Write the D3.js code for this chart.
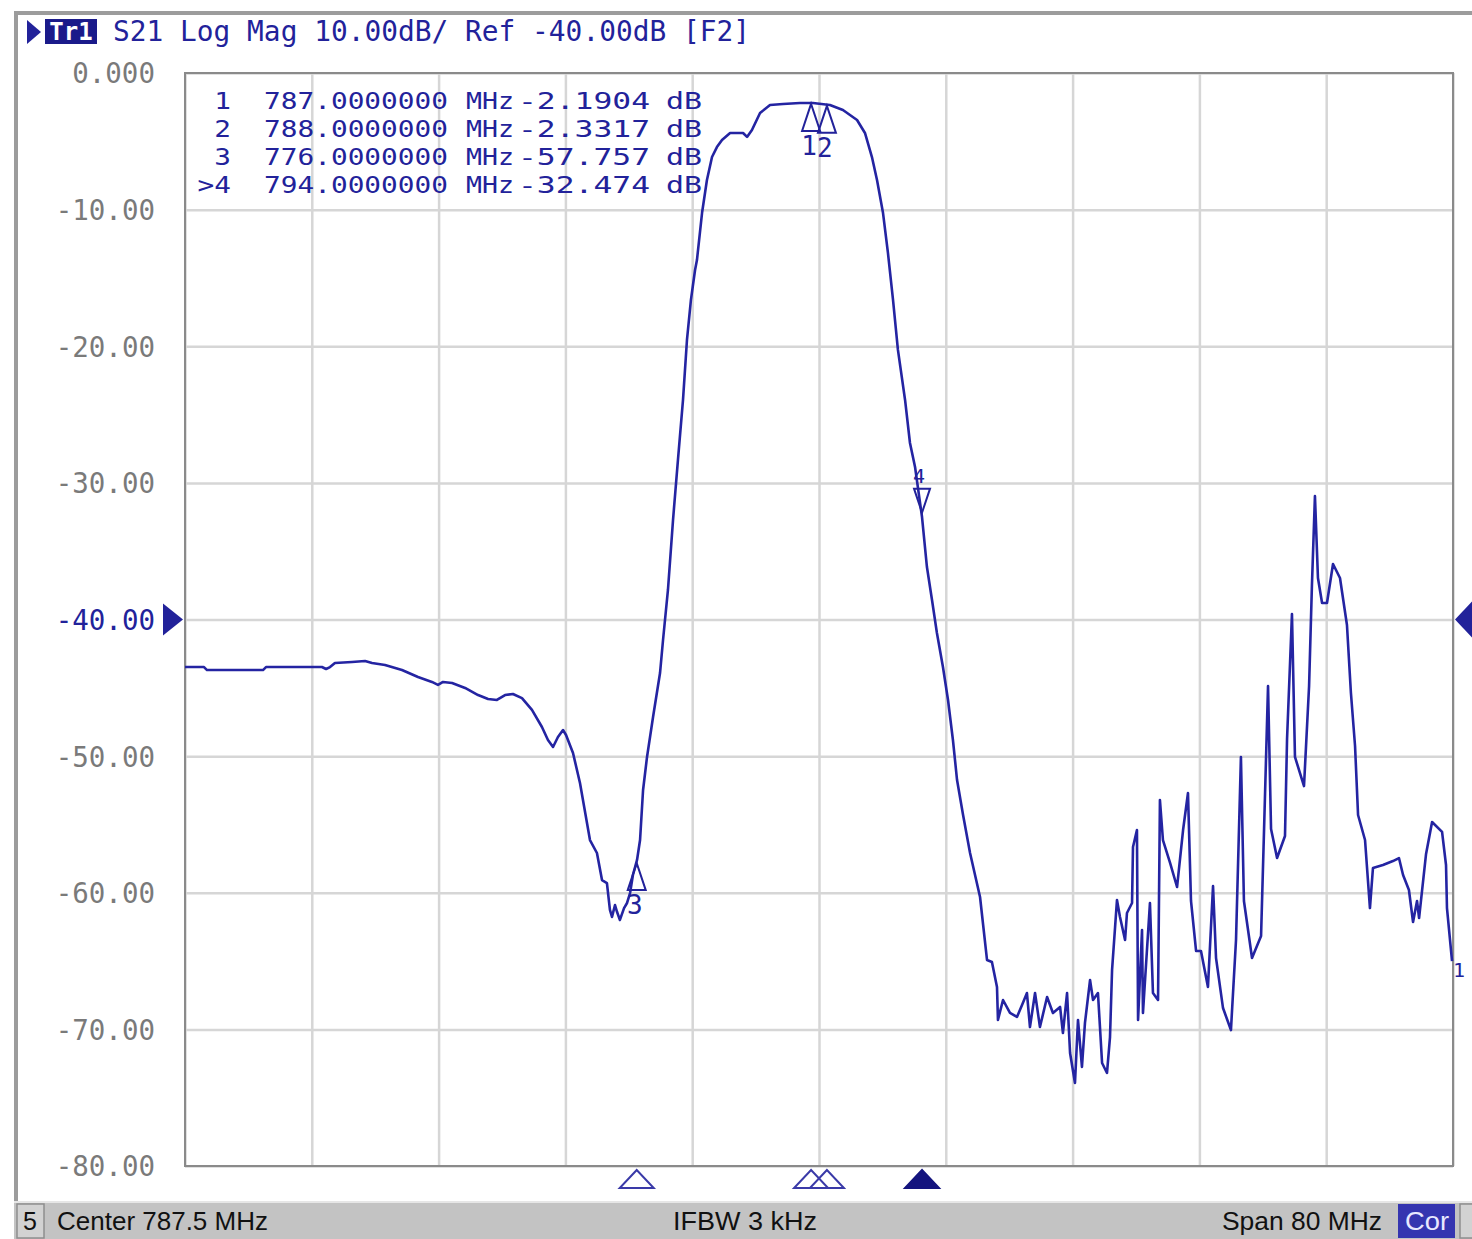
<!DOCTYPE html>
<html><head><meta charset="utf-8">
<script src="https://cdn.jsdelivr.net/npm/d3@7"></script>
<style>
html,body{margin:0;padding:0;background:#fff;}
svg{display:block;}
</style></head><body>
<svg id="c" width="1472" height="1239"></svg>
<script>
// ---- data ----
const freqMHz = [747.50, 748.70, 748.89, 752.42, 752.61, 756.14, 756.40, 756.65, 756.96, 758.04, 758.86, 759.30, 760.12, 761.19, 762.20, 763.08, 763.46, 763.78, 764.35, 765.17, 765.99, 766.62, 767.18, 767.69, 768.19, 768.76, 769.39, 770.02, 770.40, 770.72, 771.03, 771.35, 771.54, 771.98, 772.42, 773.05, 773.49, 773.81, 774.12, 774.31, 774.44, 774.63, 774.76, 774.94, 775.20, 775.39, 775.58, 775.76, 776.02, 776.21, 776.40, 776.65, 777.03, 777.47, 777.66, 777.97, 778.29, 778.60, 778.92, 779.17, 779.42, 779.68, 779.80, 780.12, 780.43, 780.75, 781.06, 781.38, 781.89, 782.71, 782.96, 783.27, 783.78, 784.41, 785.23, 786.30, 787.12, 788.19, 789.01, 789.90, 790.40, 790.84, 791.16, 791.54, 791.85, 792.17, 792.48, 792.93, 793.24, 793.56, 794.00, 794.31, 794.63, 794.94, 795.32, 795.64, 795.95, 796.21, 796.59, 797.03, 797.66, 798.10, 798.41, 798.73, 798.79, 799.11, 799.55, 799.99, 800.31, 800.62, 800.81, 801.13, 801.44, 801.89, 802.26, 802.71, 802.89, 803.15, 803.34, 803.65, 803.84, 804.09, 804.28, 804.60, 804.79, 805.10, 805.36, 805.67, 805.86, 805.99, 806.18, 806.30, 806.49, 806.81, 806.93, 807.25, 807.31, 807.56, 807.63, 807.88, 807.94, 808.38, 808.57, 808.89, 809.01, 809.20, 809.65, 810.09, 810.47, 810.78, 810.97, 811.29, 811.60, 812.04, 812.36, 812.55, 812.99, 813.49, 813.81, 814.12, 814.31, 814.82, 815.39, 815.58, 815.83, 816.02, 816.40, 816.90, 817.03, 817.34, 817.53, 818.10, 818.42, 818.60, 818.79, 818.98, 819.24, 819.55, 819.93, 820.37, 820.81, 821.06, 821.32, 821.51, 821.95, 822.26, 822.45, 823.08, 823.71, 824.09, 824.35, 824.72, 824.98, 825.23, 825.36, 825.80, 826.18, 826.81, 827.06, 827.12, 827.44];
const s21dB = [-43.48, -43.48, -43.70, -43.70, -43.48, -43.48, -43.62, -43.48, -43.18, -43.11, -43.04, -43.18, -43.33, -43.70, -44.21, -44.57, -44.79, -44.57, -44.65, -45.01, -45.53, -45.82, -45.89, -45.53, -45.45, -45.75, -46.62, -47.87, -48.82, -49.33, -48.60, -48.09, -48.45, -49.77, -51.97, -56.14, -57.09, -59.07, -59.29, -61.26, -61.77, -60.90, -61.41, -61.99, -61.12, -60.75, -60.02, -58.70, -57.60, -56.14, -52.48, -50.06, -47.14, -43.92, -41.50, -37.84, -32.72, -28.33, -23.93, -19.54, -16.61, -14.42, -13.69, -10.25, -7.83, -6.15, -5.42, -4.90, -4.39, -4.39, -4.68, -4.17, -2.93, -2.34, -2.27, -2.20, -2.20, -2.34, -2.71, -3.44, -4.39, -6.15, -7.83, -10.25, -13.17, -16.61, -20.27, -23.93, -27.08, -28.84, -32.50, -36.16, -38.57, -40.99, -43.48, -45.89, -48.82, -51.75, -54.31, -57.09, -60.31, -64.92, -65.07, -66.90, -69.31, -67.85, -68.80, -69.09, -68.22, -67.34, -69.83, -67.34, -69.83, -67.63, -68.80, -68.36, -70.27, -67.34, -71.73, -73.92, -69.31, -72.75, -69.53, -66.39, -67.85, -67.34, -72.46, -73.19, -70.56, -65.65, -62.51, -60.53, -61.77, -63.46, -61.48, -60.75, -56.65, -55.41, -69.31, -62.73, -68.80, -60.75, -67.34, -67.85, -53.21, -56.14, -57.82, -59.58, -55.41, -52.70, -60.60, -64.26, -64.26, -66.90, -59.51, -64.78, -68.44, -70.05, -63.46, -50.06, -60.60, -64.78, -63.17, -55.33, -44.87, -55.33, -57.46, -55.85, -48.75, -39.60, -50.06, -52.19, -44.87, -37.47, -30.96, -36.96, -38.79, -38.79, -35.94, -36.96, -40.40, -45.38, -49.26, -54.31, -56.14, -61.12, -58.19, -57.97, -57.68, -57.46, -58.70, -59.80, -62.14, -60.60, -61.85, -57.16, -54.82, -55.55, -57.97, -61.12, -65.00];

const yTickValues = [0, -10, -20, -30, -40, -50, -60, -70, -80];
const yTickLabels = ["0.000", "-10.00", "-20.00", "-30.00", "-40.00", "-50.00", "-60.00", "-70.00", "-80.00"];
const xGridMHz = [747.5, 755.5, 763.5, 771.5, 779.5, 787.5, 795.5, 803.5, 811.5, 819.5, 827.5];

const markerIds = ["1", "2", "3", "4"];
const markerRowIds = ["1", "2", "3", ">4"];
const markerFreq = [787, 788, 776, 794];
const markerDb = [-2.1904, -2.3317, -57.757, -32.474];
const activeMarker = "4";

const headerTag = "Tr1";
const headerText = "S21 Log Mag 10.00dB/ Ref -40.00dB [F2]";
const refLevel = -40;
const statusChannel = "5";
const statusCenter = "Center 787.5 MHz";
const statusIfbw = "IFBW 3 kHz";
const statusSpan = "Span 80 MHz";
const statusCor = "Cor";

// ---- drawing ----
const svg = d3.select("#c");
const BLUE = "#22229a";
const MONO = "'DejaVu Sans Mono', 'Liberation Mono', monospace";

const x = d3.scaleLinear().domain([747.5, 827.5]).range([185, 1453]);
const y = d3.scaleLinear().domain([-80, 0]).range([1166, 73]);

// outer frame
svg.append("rect").attr("x", 0).attr("y", 0).attr("width", 1472).attr("height", 1239).attr("fill", "#fff");
svg.append("line").attr("x1", 14).attr("x2", 1472).attr("y1", 13).attr("y2", 13)
  .attr("stroke", "#9c9c9c").attr("stroke-width", 4);
svg.append("line").attr("x1", 16).attr("x2", 16).attr("y1", 11).attr("y2", 1205)
  .attr("stroke", "#9c9c9c").attr("stroke-width", 4);

// grid
const plotW = x.range()[1] - x.range()[0];
const plotH = y.range()[0] - y.range()[1];
svg.append("g")
  .call(d3.axisBottom(x).tickValues(xGridMHz).tickSize(plotH).tickFormat(""))
  .call(g => g.attr("transform", `translate(0,${y(0)})`))
  .call(g => g.select(".domain").remove())
  .call(g => g.selectAll("line").attr("stroke", "#d6d6d6").attr("stroke-width", 2.5));
svg.append("g").attr("transform", `translate(${x(747.5)},0)`)
  .call(d3.axisRight(y).tickValues(yTickValues).tickSize(plotW).tickFormat(""))
  .call(g => g.select(".domain").remove())
  .call(g => g.selectAll("line").attr("stroke", "#d6d6d6").attr("stroke-width", 2.5));

// plot border
svg.append("rect").attr("x", x(747.5)).attr("y", y(0)).attr("width", plotW).attr("height", plotH)
  .attr("fill", "none").attr("stroke", "#8a8a8a").attr("stroke-width", 2);

// y labels
svg.append("g").attr("transform", `translate(${x(747.5)},0)`)
  .call(d3.axisLeft(y).tickValues(yTickValues).tickSize(0).tickPadding(30)
    .tickFormat((d, i) => yTickLabels[i]))
  .call(g => g.select(".domain").remove())
  .call(g => g.selectAll("text")
    .attr("font-family", MONO).attr("font-size", 27.5)
    .attr("fill", d => d === refLevel ? BLUE : "#7a7a7a")
    .attr("dy", "0.36em"));

// reference level triangles
const yr = y(refLevel);
svg.append("path").attr("d", `M163,${yr - 16}L183,${yr}L163,${yr + 16}Z`).attr("fill", BLUE);
svg.append("path").attr("d", `M1472,${yr - 18}L1455,${yr}L1472,${yr + 18}Z`).attr("fill", BLUE);

// trace
const pts = d3.zip(freqMHz, s21dB);
svg.append("path").datum(pts)
  .attr("d", d3.line().x(d => x(d[0])).y(d => y(d[1])))
  .attr("fill", "none").attr("stroke", "#2424a2").attr("stroke-width", 2.6)
  .attr("stroke-linejoin", "round");

// markers on trace
const markers = markerIds.map((id, i) => ({id, f: markerFreq[i], v: markerDb[i]}));
const mk = svg.append("g");
markers.forEach(m => {
  const mx = x(m.f), my = y(m.v);
  if (m.id === activeMarker) {
    mk.append("path").attr("d", `M${mx},${my - 4}L${mx - 8},${my - 28}L${mx + 8},${my - 28}Z`)
      .attr("fill", "none").attr("stroke", BLUE).attr("stroke-width", 2);
    mk.append("text").attr("x", mx - 3).attr("y", my - 34).attr("text-anchor", "middle")
      .attr("font-family", MONO).attr("font-size", 20).attr("fill", BLUE).text(m.id);
  } else {
    mk.append("path").attr("d", `M${mx},${my + 1}L${mx - 9},${my + 28}L${mx + 9},${my + 28}Z`)
      .attr("fill", "none").attr("stroke", BLUE).attr("stroke-width", 2);
    mk.append("text").attr("x", mx - 2).attr("y", my + 52).attr("text-anchor", "middle")
      .attr("font-family", MONO).attr("font-size", 26).attr("fill", BLUE).text(m.id);
  }
});
// off-edge marker label at right
svg.append("text").attr("x", 1453).attr("y", 977).attr("font-family", MONO).attr("font-size", 20)
  .attr("fill", BLUE).text("1");

// marker table
const tbl = svg.append("g").attr("font-family", MONO).attr("font-size", 23.8).attr("fill", BLUE);
const fit = (sel, w) => sel.attr("textLength", w).attr("lengthAdjust", "spacingAndGlyphs");
markers.forEach((m, i) => {
  const by = 109 + i * 28;
  const idTxt = markerRowIds[i];
  tbl.append("text").attr("x", 231 - idTxt.length * 16.7).attr("y", by).text(idTxt)
    .call(s => fit(s, idTxt.length * 16.7));
  tbl.append("text").attr("x", 264).attr("y", by).text(m.f.toFixed(7)).call(s => fit(s, 184));
  tbl.append("text").attr("x", 466).attr("y", by).text("MHz").call(s => fit(s, 48));
  tbl.append("text").attr("x", 518).attr("y", by).text(m.v.toPrecision(5)).call(s => fit(s, 132));
  tbl.append("text").attr("x", 666).attr("y", by).text("dB").call(s => fit(s, 36));
});

// markers below the axis
markers.forEach(m => {
  const mx = x(m.f);
  svg.append("path").attr("d", `M${mx},1170L${mx - 17},1188L${mx + 17},1188Z`)
    .attr("fill", m.id === activeMarker ? "#14147e" : "none")
    .attr("stroke", m.id === activeMarker ? "#14147e" : "#3a3aa8").attr("stroke-width", 2);
});

// header
svg.append("path").attr("d", "M27,20L41,32L27,44Z").attr("fill", BLUE);
svg.append("rect").attr("x", 45).attr("y", 19).attr("width", 52).attr("height", 25).attr("fill", "#1a1a8a");
svg.append("text").attr("x", 71).attr("y", 40).attr("text-anchor", "middle")
  .attr("font-family", MONO).attr("font-size", 24).attr("font-weight", "bold")
  .attr("fill", "#fff").text(headerTag);
svg.append("text").attr("x", 113).attr("y", 41)
  .attr("font-family", MONO).attr("font-size", 27.8).attr("fill", BLUE)
  .attr("textLength", 637).attr("lengthAdjust", "spacing").text(headerText);

// status bar
const sb = svg.append("g");
sb.append("rect").attr("x", 14).attr("y", 1202).attr("width", 1458).attr("height", 37).attr("fill", "#c3c3c3");
sb.append("line").attr("x1", 14).attr("x2", 1472).attr("y1", 1202).attr("y2", 1202).attr("stroke", "#e6e6e6").attr("stroke-width", 2);
sb.append("rect").attr("x", 17).attr("y", 1204).attr("width", 27).attr("height", 34)
  .attr("fill", "#d2d2d2").attr("stroke", "#8e8e8e").attr("stroke-width", 1.5);
const SANS = "'Liberation Sans Narrow', 'Liberation Sans', Arial, sans-serif";
sb.append("text").attr("x", 23).attr("y", 1230).attr("font-family", SANS).attr("font-size", 25).attr("fill", "#111").text(statusChannel);
sb.append("text").attr("x", 57).attr("y", 1230).attr("font-family", SANS).attr("font-size", 25).attr("fill", "#111")
  .attr("textLength", 211).attr("lengthAdjust", "spacingAndGlyphs").text(statusCenter);
sb.append("text").attr("x", 673).attr("y", 1230).attr("font-family", SANS).attr("font-size", 25).attr("fill", "#111")
  .attr("textLength", 144).attr("lengthAdjust", "spacingAndGlyphs").text(statusIfbw);
sb.append("text").attr("x", 1222).attr("y", 1230).attr("font-family", SANS).attr("font-size", 25).attr("fill", "#111")
  .attr("textLength", 160).attr("lengthAdjust", "spacingAndGlyphs").text(statusSpan);
sb.append("rect").attr("x", 1398).attr("y", 1204).attr("width", 57).attr("height", 34).attr("fill", "#3535b0");
sb.append("text").attr("x", 1405).attr("y", 1230).attr("font-family", SANS).attr("font-size", 25).attr("fill", "#e8e8ff")
  .attr("textLength", 44).attr("lengthAdjust", "spacingAndGlyphs").text(statusCor);
sb.append("rect").attr("x", 1460).attr("y", 1204).attr("width", 14).attr("height", 34)
  .attr("fill", "#d2d2d2").attr("stroke", "#8e8e8e").attr("stroke-width", 1.5);
</script>
</body></html>
